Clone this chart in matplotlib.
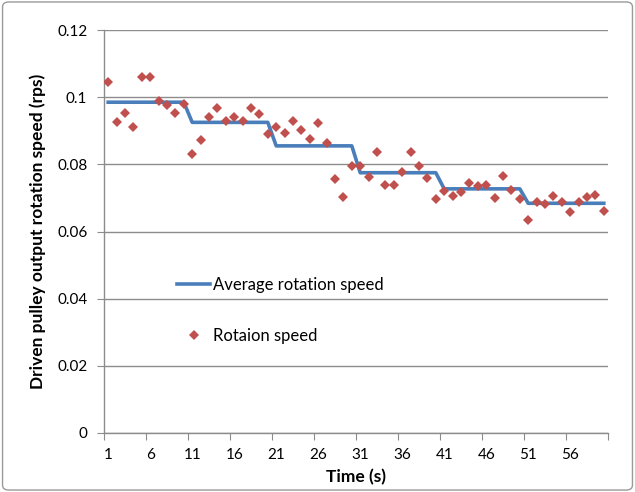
import numpy as np
import matplotlib
matplotlib.use("Agg")
import matplotlib.pyplot as plt
from matplotlib.patches import FancyBboxPatch

# ---- data ----
time_s = list(range(1, 61))
rotation_speed = [
    0.1045, 0.0925, 0.0952, 0.0910, 0.1059, 0.1059, 0.0989, 0.0977, 0.0952, 0.0979,
    0.0830, 0.0873, 0.0942, 0.0967, 0.0929, 0.0942, 0.0929, 0.0967, 0.0949, 0.0890,
    0.0912, 0.0892, 0.0930, 0.0902, 0.0874, 0.0922, 0.0865, 0.0757, 0.0702, 0.0795,
    0.0795, 0.0763, 0.0837, 0.0739, 0.0739, 0.0777, 0.0837, 0.0795, 0.0759, 0.0697,
    0.0721, 0.0705, 0.0719, 0.0745, 0.0735, 0.0737, 0.0700, 0.0765, 0.0725, 0.0697,
    0.0635, 0.0689, 0.0683, 0.0707, 0.0689, 0.0659, 0.0687, 0.0704, 0.0709, 0.0662,
]
avg_levels = [0.0985, 0.0925, 0.0855, 0.0775, 0.0727, 0.0684]
block_len = 10
average_speed = list(np.repeat(avg_levels, block_len))
x_tick_labels = ["1", "6", "11", "16", "21", "26", "31", "36", "41", "46", "51", "56"]
y_ticks = [0, 0.02, 0.04, 0.06, 0.08, 0.1, 0.12]
y_tick_labels = ["0", "0.02", "0.04", "0.06", "0.08", "0.1", "0.12"]

plt.rcParams['font.family'] = ['Lato', 'DejaVu Sans']

fig = plt.figure(figsize=(6.35, 4.92), dpi=100)
ax = fig.add_axes([104/635, 1 - 433/492, 504/635, 403/492])

grid_col = "#8c8c8c"
ax.set_axisbelow(True)
ax.yaxis.grid(True, color=grid_col, linewidth=1.0)

ax.plot(time_s, average_speed, color="#4A7EBB", linewidth=2.6,
        label="Average rotation speed", solid_joinstyle="round", zorder=2)
ax.plot(time_s, rotation_speed, linestyle="none", marker="D", markersize=4.8,
        color="#C0504D", markeredgewidth=0, label="Rotaion speed", zorder=3)

ax.set_xlim(0.5, 60.5)
ax.set_ylim(0, 0.12)
ax.set_yticks(y_ticks)
ax.set_yticklabels(y_tick_labels, fontsize=11)

# category axis: tick marks between categories, labels at category centers
ax.set_xticks(np.arange(0.5, 61, 5))
ax.set_xticklabels([])
ax.set_xticks([int(s) for s in x_tick_labels], minor=True)
ax.set_xticklabels(x_tick_labels, minor=True, fontsize=11)
ax.tick_params(axis="x", which="minor", length=0, pad=11)
ax.tick_params(axis="x", which="major", length=5, color=grid_col, direction="out")
ax.tick_params(axis="y", length=5, color=grid_col, direction="out", pad=7)

for s in ["top", "right"]:
    ax.spines[s].set_visible(False)
for s in ["left", "bottom"]:
    ax.spines[s].set_color(grid_col)
    ax.spines[s].set_linewidth(1.0)

ax.set_xlabel("Time (s)", fontsize=12.5, fontweight="bold", labelpad=5)
ax.set_ylabel("Driven pulley output rotation speed (rps)", fontsize=12.5,
              fontweight="bold", labelpad=8)

leg = ax.legend(loc="upper left", bbox_to_anchor=(0.115, 0.425), frameon=False,
                fontsize=12, labelspacing=2.1, handlelength=2.0,
                handletextpad=0.15)

# figure border
border = FancyBboxPatch((0.004, 0.004), 0.992, 0.992,
                        boxstyle="round,pad=0,rounding_size=0.01",
                        transform=fig.transFigure, fill=False,
                        edgecolor="#9a9a9a", linewidth=1.0)
fig.patches.append(border)

fig.savefig("out.png", dpi=100)
